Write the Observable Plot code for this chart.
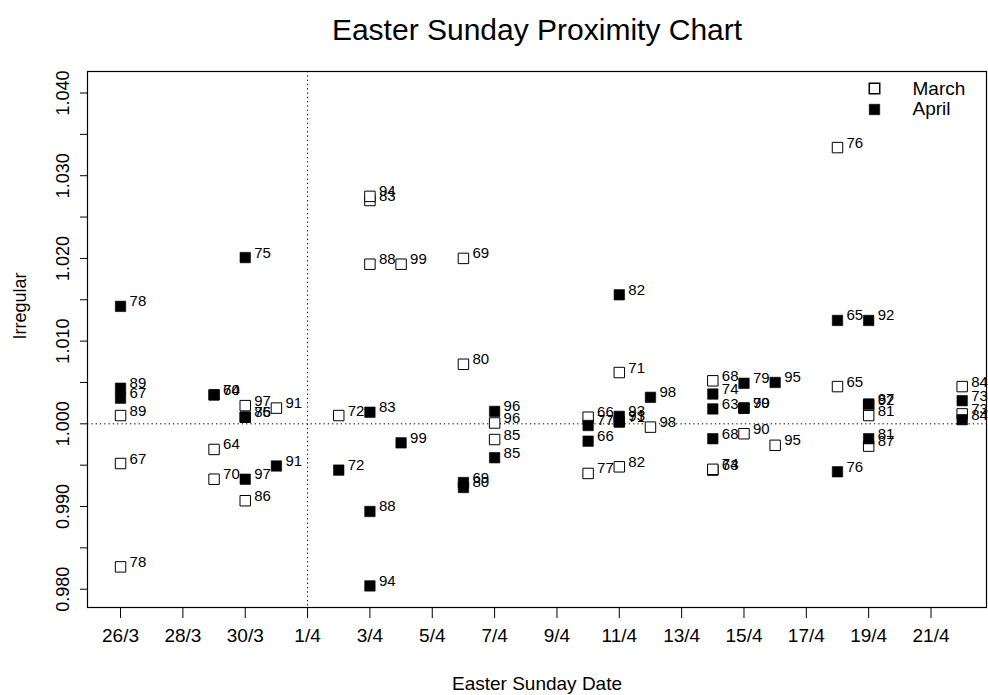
<!DOCTYPE html>
<html><head><meta charset="utf-8">
<script src="https://cdn.jsdelivr.net/npm/d3@7"></script>
<script src="https://cdn.jsdelivr.net/npm/@observablehq/plot@0.6"></script>
<style>
body{margin:0;background:#fff}
svg{font-family:"Liberation Sans",Arial,Helvetica,sans-serif}
</style>
</head><body><div id="chart"></div>
<script>
// Years (19xx) and Easter Sunday as day count from 1 March (April d -> 31 + d)
const years = [63,64,65,66,67,68,69,70,71,72,73,74,75,76,77,78,79,80,81,82,83,84,85,86,87,88,89,90,91,92,93,94,95,96,97,98,99];
const easterDay = [45,29,49,41,26,45,37,29,42,33,53,45,30,49,41,26,46,37,50,42,34,53,38,30,50,34,26,46,31,50,42,34,47,38,30,43,35];
// Irregular component for March (hollow) and April (filled)
const marchValues = [0.9944,0.9969,1.0045,1.0008,0.9952,1.0052,1.0200,0.9933,1.0062,1.0010,1.0012,0.9945,1.0008,1.0334,0.9940,0.9827,1.0019,1.0072,1.0010,0.9948,1.0270,1.0045,0.9981,0.9907,0.9973,1.0193,1.0010,0.9988,1.0019,1.0023,1.0003,1.0275,0.9974,1.0001,1.0022,0.9996,1.0193];
const aprilValues = [1.0018,1.0035,1.0125,0.9979,1.0031,0.9982,0.9929,1.0035,1.0002,0.9944,1.0028,1.0036,1.0201,0.9942,0.9998,1.0142,1.0049,0.9923,0.9982,1.0156,1.0014,1.0005,0.9959,1.0008,1.0024,0.9894,1.0043,1.0019,0.9949,1.0125,1.0009,0.9804,1.0050,1.0015,0.9933,1.0032,0.9977];
const tickDays = [26,28,30,32,34,36,38,40,42,44,46,48,50,52];
const tickLabels = ["26/3","28/3","30/3","1/4","3/4","5/4","7/4","9/4","11/4","13/4","15/4","17/4","19/4","21/4"];
const yTicks = [0.980,0.985,0.990,0.995,1.000,1.005,1.010,1.015,1.020,1.025,1.030,1.035,1.040];
const yLabelTicks = [0.980,0.990,1.000,1.010,1.020,1.030,1.040];
const legendLabels = ["March","April"];
const titleText = "Easter Sunday Proximity Chart";
const xTitle = "Easter Sunday Date";
const yTitle = "Irregular";

const march = years.map((yr,i)=>({year:String(yr), day:easterDay[i], value:marchValues[i]}));
const april = years.map((yr,i)=>({year:String(yr), day:easterDay[i], value:aprilValues[i]}));

const chart = Plot.plot({
  width: 988, height: 695,
  marginLeft: 87, marginRight: 2, marginTop: 71, marginBottom: 88,
  style: {fontFamily: '"Liberation Sans", Arial, sans-serif', fontSize: "18px", background: "white", color: "black", overflow: "visible"},
  x: {domain: [24.94, 53.78]},
  y: {domain: [0.97779, 1.0426]},
  marks: [
    Plot.ruleY([1], {stroke: "black", strokeDasharray: "1.3,3"}),
    Plot.ruleX([32], {stroke: "black", strokeDasharray: "1.3,3"}),
    Plot.frame({stroke: "black", strokeWidth: 1.2}),
    Plot.axisX({ticks: tickDays, tickFormat: d => tickLabels[tickDays.indexOf(d)], tickSize: 11, tickPadding: 10, fontSize: 19, label: null}),
    Plot.axisY({ticks: yTicks, tickSize: 7, tickFormat: () => "", label: null}),
    Plot.text(yLabelTicks, {y: d => d, text: d => d.toFixed(3), frameAnchor: "left", rotate: -90, dx: -24, textAnchor: "middle", lineAnchor: "middle", fontSize: 18}),
    Plot.dot(march, {x: "day", y: "value", symbol: "square", r: 5.9, fill: "white", stroke: "black", strokeWidth: 1}),
    Plot.dot(april, {x: "day", y: "value", symbol: "square", r: 5.9, fill: "black", stroke: "black", strokeWidth: 0.6}),
    Plot.text(march, {x: "day", y: "value", text: "year", textAnchor: "start", lineAnchor: "bottom", dx: 9, fontSize: 15}),
    Plot.text(april, {x: "day", y: "value", text: "year", textAnchor: "start", lineAnchor: "bottom", dx: 9, fontSize: 15}),
    Plot.dot([legendLabels[0]], {frameAnchor: "top-right", dx: -112, dy: 17, symbol: "square", r: 5.9, fill: "white", stroke: "black"}),
    Plot.dot([legendLabels[1]], {frameAnchor: "top-right", dx: -112, dy: 38, symbol: "square", r: 5.9, fill: "black", stroke: "black", strokeWidth: 0.6}),
    Plot.text([legendLabels[0]], {text: d => d, frameAnchor: "top-right", dx: -74, dy: 17, textAnchor: "start", lineAnchor: "middle", fontSize: 19}),
    Plot.text([legendLabels[1]], {text: d => d, frameAnchor: "top-right", dx: -74, dy: 37, textAnchor: "start", lineAnchor: "middle", fontSize: 19}),
    Plot.text([titleText], {text: d => d, frameAnchor: "top", dy: -41, lineAnchor: "middle", fontSize: 30}),
    Plot.text([xTitle], {text: d => d, frameAnchor: "bottom", dy: 76, lineAnchor: "middle", fontSize: 19}),
    Plot.text([yTitle], {text: d => d, frameAnchor: "left", dx: -67, rotate: -90, lineAnchor: "middle", fontSize: 18})
  ]
});
document.getElementById("chart").appendChild(chart);
</script>
</body></html>
